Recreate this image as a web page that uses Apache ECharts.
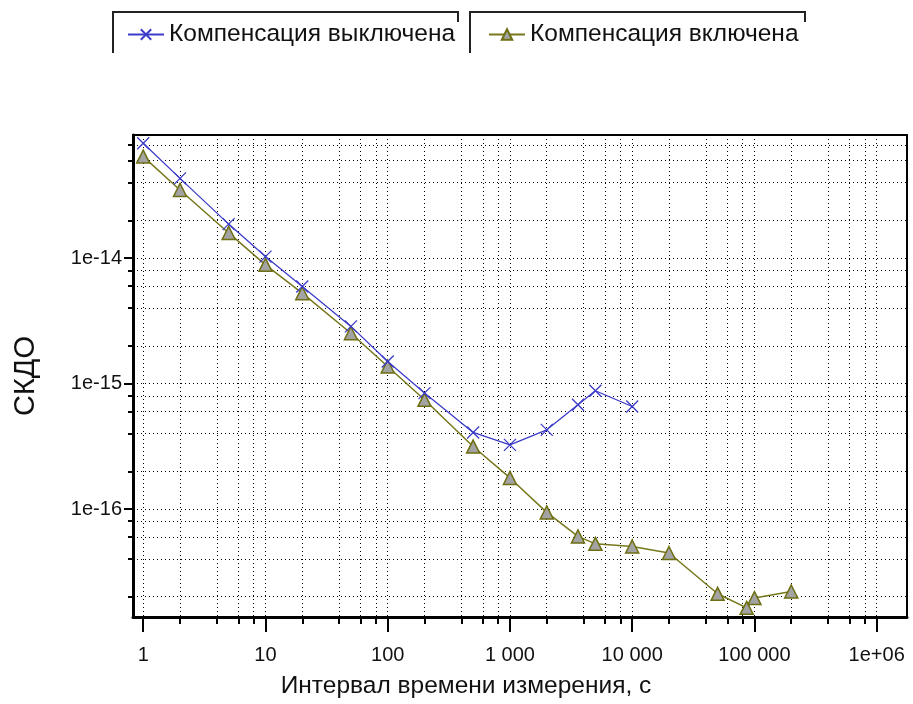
<!DOCTYPE html>
<html>
<head>
<meta charset="utf-8">
<script src="https://cdn.jsdelivr.net/npm/echarts@6/dist/echarts.min.js"></script>
<style>
html,body{margin:0;padding:0;background:#fff;}
#chart{width:913px;height:704px;}
</style>
</head>
<body>
<div id="chart"></div>
<script>
// ---- data ----
const seriesOffName = 'Компенсация выключена';
const seriesOnName = 'Компенсация включена';
const tauOff = [1, 2, 5, 10, 20, 50, 100, 200, 500, 1000, 2000, 3600, 5000, 10000];
const sigmaOff = [8.24e-14, 4.33e-14, 1.87e-14, 1.03e-14, 5.94e-15, 2.86e-15, 1.5e-15, 8.4e-16, 4.08e-16, 3.25e-16, 4.28e-16, 6.78e-16, 8.77e-16, 6.57e-16];
const tauOn = [1, 2, 5, 10, 20, 50, 100, 200, 500, 1000, 2000, 3600, 5000, 10000, 20000, 50000, 86400, 100000, 200000];
const sigmaOn = [6.46e-14, 3.5e-14, 1.59e-14, 8.85e-15, 5.26e-15, 2.52e-15, 1.37e-15, 7.43e-16, 3.15e-16, 1.77e-16, 9.4e-17, 6.05e-17, 5.28e-17, 5.03e-17, 4.46e-17, 2.11e-17, 1.63e-17, 1.95e-17, 2.2e-17];

const xMajorTicks = [1, 10, 100, 1000, 10000, 100000, 1000000];
const xMajorLabels = ['1', '10', '100', '1 000', '10 000', '100 000', '1e+06'];
const xMinorTicks = [2, 4, 6, 8, 20, 40, 60, 80, 200, 400, 600, 800, 2000, 4000, 6000, 8000,
  20000, 40000, 60000, 80000, 200000, 400000, 600000, 800000];
const yMajorTicks = [1e-16, 1e-15, 1e-14];
const yMajorLabels = ['1e-16', '1e-15', '1e-14'];
const yMinorTicks = [2e-17, 4e-17, 6e-17, 8e-17, 2e-16, 4e-16, 6e-16, 8e-16,
  2e-15, 4e-15, 6e-15, 8e-15, 2e-14, 4e-14, 6e-14, 8e-14];
const xTitle = 'Интервал времени измерения, с';
const yTitle = 'СКДО';

// ---- chart ----
const X_MIN = 0.825, X_MAX = 1.77e6;
const Y_MIN = 1.378e-17, Y_MAX = 9.6e-14;
const FONT = '"Liberation Sans", Arial, sans-serif';

function labelFor(ticks, labels) {
  return function (v) {
    for (let i = 0; i < ticks.length; i++) {
      if (Math.abs(Math.log10(ticks[i]) - Math.log10(v)) < 1e-6) return labels[i];
    }
    return '';
  };
}
const gridLine = { show: true, lineStyle: { color: '#000', width: 1, type: [1, 3] } };

const chart = echarts.init(document.getElementById('chart'), null, { renderer: 'canvas' });
chart.setOption({
  animation: false,
  backgroundColor: '#fff',
  grid: { left: 133, right: 6, top: 135, bottom: 87, show: true, borderColor: '#000', borderWidth: 2, backgroundColor: 'transparent' },
  legend: [
    { data: [seriesOffName], left: 122, top: 17, itemWidth: 36, itemHeight: 13, itemGap: 6,
      textStyle: { fontFamily: FONT, fontSize: 24.5, color: '#111' } },
    { data: [seriesOnName], left: 483, top: 17, itemWidth: 36, itemHeight: 13, itemGap: 6,
      textStyle: { fontFamily: FONT, fontSize: 24.5, color: '#111' } }
  ],
  graphic: [
    { type: 'polyline', shape: { points: [[113, 53], [113, 12], [458, 12], [458, 22]] }, style: { stroke: '#222', lineWidth: 2, fill: null } },
    { type: 'polyline', shape: { points: [[470, 53], [470, 12], [805, 12], [805, 22]] }, style: { stroke: '#222', lineWidth: 2, fill: null } }
  ],
  xAxis: [
    { type: 'log', min: X_MIN, max: X_MAX, position: 'bottom',
      name: xTitle, nameLocation: 'middle', nameGap: 57,
      nameTextStyle: { fontFamily: FONT, fontSize: 24.5, color: '#111', padding: [0, 108, 0, 0] },
      axisLine: { show: true, lineStyle: { color: '#000', width: 3 } },
      axisTick: { show: true, length: 15, customValues: xMajorTicks, lineStyle: { color: '#000', width: 2 } },
      axisLabel: { show: true, customValues: xMajorTicks, formatter: labelFor(xMajorTicks, xMajorLabels), margin: 28,
        fontFamily: FONT, fontSize: 20, color: '#111' },
      splitLine: gridLine, minorTick: { show: false } },
    { type: 'log', min: X_MIN, max: X_MAX, position: 'bottom',
      axisLine: { show: false },
      axisTick: { show: true, length: 7, customValues: xMinorTicks, lineStyle: { color: '#000', width: 2 } },
      axisLabel: { show: false },
      splitLine: gridLine }
  ],
  yAxis: [
    { type: 'log', min: Y_MIN, max: Y_MAX, position: 'left',
      name: yTitle, nameLocation: 'middle', nameGap: 93, nameRotate: 90,
      nameTextStyle: { fontFamily: FONT, fontSize: 29, color: '#111' },
      axisLine: { show: true, lineStyle: { color: '#000', width: 3 } },
      axisTick: { show: true, length: 9, customValues: yMajorTicks, lineStyle: { color: '#000', width: 2 } },
      axisLabel: { show: true, customValues: yMajorTicks, formatter: labelFor(yMajorTicks, yMajorLabels), margin: 11,
        fontFamily: FONT, fontSize: 20, color: '#111' },
      splitLine: gridLine },
    { type: 'log', min: Y_MIN, max: Y_MAX, position: 'left',
      axisLine: { show: false },
      axisTick: { show: true, length: 5, customValues: yMinorTicks, lineStyle: { color: '#000', width: 2 } },
      axisLabel: { show: false },
      splitLine: gridLine }
  ],
  series: [
    { name: seriesOffName, type: 'line', xAxisIndex: 0, yAxisIndex: 0,
      data: tauOff.map((t, i) => [t, sigmaOff[i]]),
      symbol: 'path://M0,0L10,10M0,10L10,0', symbolSize: 12,
      lineStyle: { color: '#3c3cc8', width: 1.3 },
      itemStyle: { color: '#3c3cc8', borderColor: '#3c3cc8', borderWidth: 1.3 },
      z: 3 },
    { name: seriesOnName, type: 'line', xAxisIndex: 0, yAxisIndex: 0,
      data: tauOn.map((t, i) => [t, sigmaOn[i]]),
      symbol: 'triangle', symbolSize: 13,
      lineStyle: { color: '#77771c', width: 1.5 },
      itemStyle: { color: '#a3a3a3', borderColor: '#6e6e12', borderWidth: 1.5 },
      z: 2 }
  ]
});
</script>
</body>
</html>
